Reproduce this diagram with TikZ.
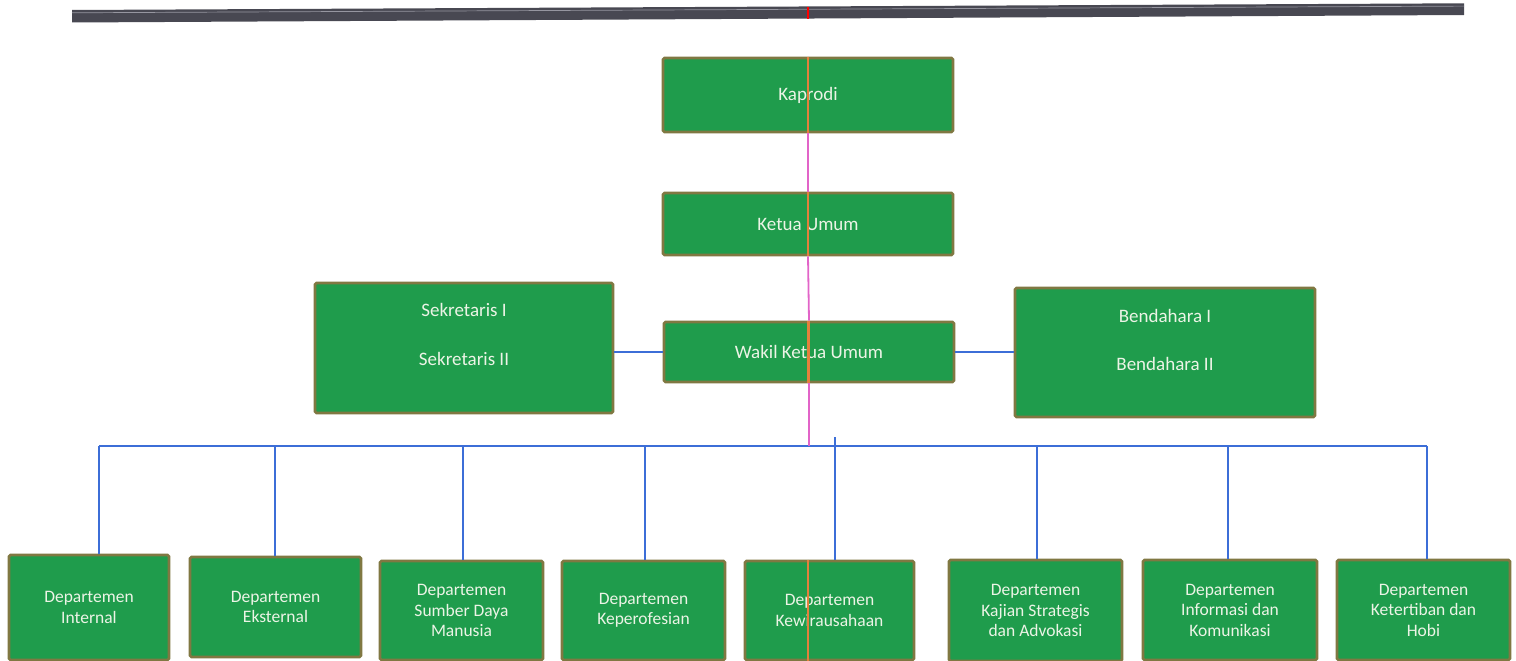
\documentclass[tikz,border=0pt]{standalone}
\usepackage{fontspec}
\setmainfont{Carlito}
\definecolor{boxgreen}{RGB}{31,156,76}
\definecolor{boxedge}{RGB}{128,120,66}
\definecolor{txt}{RGB}{236,244,230}
\definecolor{bl}{RGB}{60,110,215}
\definecolor{pk}{RGB}{226,100,200}
\definecolor{orng}{RGB}{228,128,60}
\definecolor{bar}{RGB}{72,72,82}
\definecolor{barhi}{RGB}{150,150,160}
\tikzset{
  box/.style={draw=boxedge, fill=boxgreen, line width=2.6pt, rounded corners=1.5pt, inner sep=0pt},
  toptext/.style={text=txt, font=\fontsize{19}{23}\selectfont, align=center, inner sep=0pt},
  deptext/.style={text=txt, font=\fontsize{17.5}{20.5}\selectfont, align=center, inner sep=0pt},
  blue line/.style={draw=bl, line width=1.8pt},
  pink line/.style={draw=pk, line width=1.8pt},
  artifact/.style={draw=orng, line width=2.6pt},
}
\begin{document}
\begin{tikzpicture}[x=1pt,y=-1pt]
\useasboundingbox (0,0) rectangle (1516,661);
% top bar
\fill[bar] (72,10) -- (1464,3.3) -- (1464,15) -- (72,22.5) -- cycle;
\draw[barhi, line width=0.7pt] (72,12.8) -- (1464,6.1);
\draw[red, line width=2pt] (808,7) -- (808,19);
% top boxes
\node[box, minimum width=290pt, minimum height=74pt] (kaprodi) at (808,95) {};
\node[toptext] (kaprodit) at (kaprodi.center) {Kaprodi};
\node[box, minimum width=290pt, minimum height=62pt] (ketua) at (808,224) {};
\node[toptext] (ketuat) at (ketua.center) {Ketua Umum};
\node[box, minimum width=290pt, minimum height=60pt] (wakil) at (809,352) {};
\node[toptext] (wakilt) at (wakil.center) {Wakil Ketua Umum};
\node[box, minimum width=298pt, minimum height=130pt] (sek) at (464,348) {};
\node[toptext] (sek1) at (464,310) {Sekretaris I};
\node[toptext] (sek2) at (464,359) {Sekretaris II};
\node[box, minimum width=300pt, minimum height=129pt] (bend) at (1165,352.5) {};
\node[toptext] (bend1) at (1165,316) {Bendahara I};
\node[toptext] (bend2) at (1165,364) {Bendahara II};
% departments
\node[box, minimum width=160pt, minimum height=105pt] (d1) at (89,607.5) {};
\node[deptext] (t1) at (d1.center) {Departemen\\Internal};
\node[box, minimum width=171pt, minimum height=100pt] (d2) at (275.5,607) {};
\node[deptext] (t2) at (d2.center) {Departemen\\Eksternal};
\node[box, minimum width=163pt, minimum height=99pt] (d3) at (461.5,610.5) {};
\node[deptext] (t3) at (d3.center) {Departemen\\Sumber Daya\\Manusia};
\node[box, minimum width=163pt, minimum height=99pt] (d4) at (643.5,610.5) {};
\node[deptext] (t4) at (d4.center) {Departemen\\Keperofesian};
\node[box, minimum width=169pt, minimum height=99pt] (d5) at (829.5,610.5) {};
\node[deptext] (t5) at (d5.center) {Departemen\\Kewirausahaan};
\node[box, minimum width=173pt, minimum height=101pt] (d6) at (1035.5,610.5) {};
\node[deptext] (t6) at (d6.center) {Departemen\\Kajian Strategis\\dan Advokasi};
\node[box, minimum width=174pt, minimum height=100pt] (d7) at (1230,610) {};
\node[deptext] (t7) at (d7.center) {Departemen\\Informasi dan\\Komunikasi};
\node[box, minimum width=173pt, minimum height=100pt] (d8) at (1423.5,610) {};
\node[deptext] (t8) at (d8.center) {Departemen\\Ketertiban dan\\Hobi};
% bus coordinates
\coordinate (j1) at (99,446);
\coordinate (j2) at (275,446);
\coordinate (j3) at (463,446);
\coordinate (j4) at (645,446);
\coordinate (j5) at (835,437);
\coordinate (j6) at (1037,446);
\coordinate (j7) at (1228,446);
\coordinate (j8) at (1427,446);
\coordinate (jm) at (809,446);
% connectors
\draw[blue line] (j1) -- (j8);
\foreach \i in {1,...,8} { \draw[blue line] (j\i) -- (d\i.north -| j\i); }
\draw[blue line] (wakil.west) -- (wakil.west -| sek.east);
\draw[blue line] (wakil.east) -- (wakil.east -| bend.west);
\draw[pink line] (kaprodi.south) -- (ketua.north);
\draw[pink line] (ketua.south) -- (wakil.north);
\draw[pink line] (wakil.south) -- (jm);
% scan artifact streak through the centre boxes
\draw[artifact] (kaprodi.north) -- (kaprodi.south);
\draw[artifact] (ketua.north) -- (ketua.south);
\draw[artifact] ([xshift=-0.5pt]wakil.north) -- ([xshift=-0.5pt]wakil.south);
\draw[artifact] (d5.north -| kaprodi.north) -- (d5.south -| kaprodi.north);
\end{tikzpicture}
\end{document}
